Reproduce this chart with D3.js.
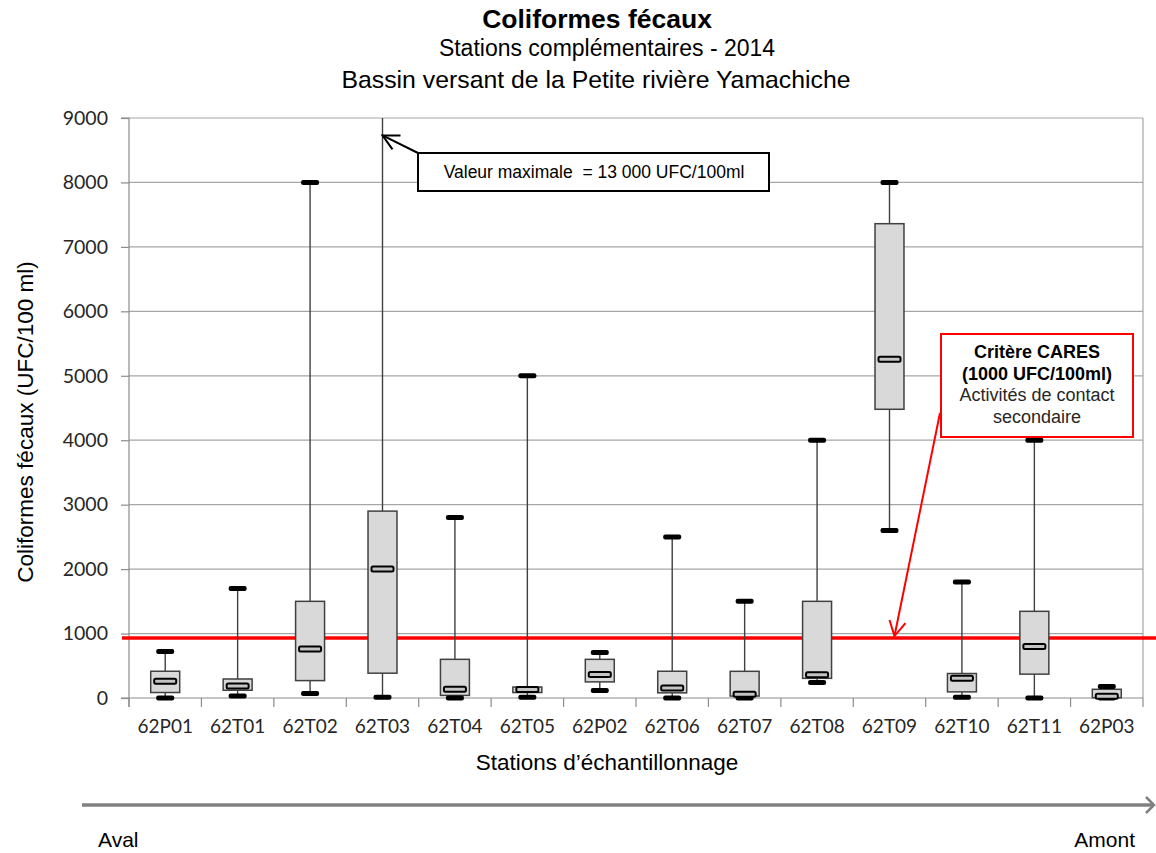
<!DOCTYPE html>
<html><head><meta charset="utf-8">
<script src="https://cdn.jsdelivr.net/npm/d3@7"></script>
<style>
html,body{margin:0;padding:0;background:#fff;}
svg{display:block;}
</style></head>
<body>
<svg id="chart" width="1156" height="853"></svg>
<script>
// ---- data ----
const stations = ["62P01","62T01","62T02","62T03","62T04","62T05","62P02","62T06","62T07","62T08","62T09","62T10","62T11","62P03"];
const minV   = [0, 30, 70, 10, 0, 10, 115, 0, 0, 240, 2600, 10, 0, 0];
const q1V    = [85, 120, 270, 385, 40, 85, 250, 80, 30, 305, 4480, 95, 370, 5];
const medV   = [260, 185, 760, 2000, 135, 130, 365, 155, 57, 362, 5255, 305, 800, 26];
const q3V    = [415, 295, 1500, 2900, 600, 170, 600, 415, 414, 1500, 7360, 380, 1345, 135];
const maxV   = [720, 1700, 8000, 13000, 2800, 5000, 705, 2500, 1500, 4000, 8000, 1800, 4000, 180];
const yTicks = [0,1000,2000,3000,4000,5000,6000,7000,8000,9000];
const criterion = 930;

const titleLines = ["Coliformes fécaux","Stations complémentaires - 2014","Bassin versant de la Petite rivière Yamachiche"];
const yTitle = "Coliformes fécaux (UFC/100 ml)";
const xTitle = "Stations d’échantillonnage";
const noteMax = "Valeur maximale  = 13 000 UFC/100ml";
const noteCares = ["Critère CARES","(1000 UFC/100ml)","Activités de contact","secondaire"];

const data = stations.map((s,i)=>({s,min:minV[i],q1:q1V[i],med:medV[i],q3:q3V[i],max:maxV[i]}));

const svg = d3.select("#chart");
const L=129, R=1143, T=118, B=698;
const x = d3.scaleBand().domain(stations).range([L,R]);
const y = d3.scaleLinear().domain([0,9000]).range([B,T]);
const bw = x.bandwidth();
const cx = s => x(s)+bw/2;

const ARIAL = "'Liberation Sans', Arial, sans-serif";
const CAL = "Lato, 'Open Sans', sans-serif";

const defs = svg.append("defs");
defs.append("clipPath").attr("id","plotclip").append("rect")
  .attr("x",L-20).attr("y",T).attr("width",R-L+40).attr("height",B-T+20);

// gridlines
svg.append("g").selectAll("line").data(yTicks.filter(d=>d>0)).join("line")
  .attr("x1",L).attr("x2",R).attr("y1",d=>y(d)).attr("y2",d=>y(d))
  .attr("stroke","#a6a6a6").attr("stroke-width",1.2);

// right border
svg.append("line").attr("x1",R).attr("x2",R).attr("y1",T).attr("y2",B)
  .attr("stroke","#a6a6a6").attr("stroke-width",1.2);

// y axis
const yAxis = d3.axisLeft(y).tickValues(yTicks).tickSize(8).tickPadding(13).tickFormat(d3.format("d"));
const gy = svg.append("g").attr("transform",`translate(${L},0)`).call(yAxis);
gy.select(".domain").attr("stroke","#8c8c8c").attr("stroke-width",1.2).attr("d",`M-8,${B}H0V${T}H-8`);
gy.selectAll(".tick line").attr("stroke","#8c8c8c").attr("stroke-width",1.2);
gy.selectAll(".tick text").attr("font-family",CAL).attr("font-size","19.5px").attr("fill","#262626");
gy.append("line").attr("x1",0).attr("x2",0).attr("y1",B).attr("y2",B+9).attr("stroke","#8c8c8c").attr("stroke-width",1.2);

// x axis
const gx = svg.append("g").attr("transform",`translate(0,${B})`);
gx.append("line").attr("x1",L).attr("x2",R).attr("y1",0).attr("y2",0).attr("stroke","#8c8c8c").attr("stroke-width",1.2);
gx.selectAll("line.tk").data(stations.map(s=>x(s)+bw).concat([L])).join("line").attr("class","tk")
  .attr("x1",d=>d).attr("x2",d=>d).attr("y1",0).attr("y2",9).attr("stroke","#8c8c8c").attr("stroke-width",1.2);
gx.selectAll("text").data(stations).join("text")
  .attr("x",d=>cx(d)).attr("y",35).attr("text-anchor","middle")
  .attr("font-family",CAL).attr("font-size","19px").attr("fill","#262626").text(d=>d);

// criterion line
svg.append("line").attr("x1",122).attr("x2",1156).attr("y1",y(criterion)).attr("y2",y(criterion))
  .attr("stroke","#ff0000").attr("stroke-width",3.5);

// boxes
const g = svg.append("g");
const boxes = g.selectAll("g.box").data(data).join("g").attr("class","box");
boxes.append("line").attr("clip-path","url(#plotclip)")
  .attr("x1",d=>cx(d.s)).attr("x2",d=>cx(d.s)).attr("y1",d=>y(d.min)).attr("y2",d=>y(d.max))
  .attr("stroke","#404040").attr("stroke-width",1.4);
const boxW = bw*0.4;
boxes.append("rect")
  .attr("x",d=>cx(d.s)-boxW/2).attr("width",boxW)
  .attr("y",d=>y(d.q3)).attr("height",d=>y(d.q1)-y(d.q3))
  .attr("fill","#d9d9d9").attr("stroke","#404040").attr("stroke-width",1.5);
const capW = 18, capH = 5;
boxes.filter(d=>d.max<=9000).append("rect")
  .attr("x",d=>cx(d.s)-capW/2).attr("width",capW).attr("y",d=>y(d.max)-capH/2).attr("height",capH)
  .attr("rx",2).attr("fill","#000");
boxes.append("rect")
  .attr("x",d=>cx(d.s)-capW/2).attr("width",capW).attr("y",d=>y(d.min)-capH/2).attr("height",capH)
  .attr("rx",2).attr("fill","#000");
const medW = 22, medH = 5;
boxes.append("rect")
  .attr("x",d=>cx(d.s)-medW/2).attr("width",medW).attr("y",d=>y(d.med)-medH/2).attr("height",medH)
  .attr("rx",1.5).attr("fill","#c4c4c4").attr("stroke","#000").attr("stroke-width",2);

// title
const tt = svg.append("g").attr("font-family",ARIAL).attr("fill","#000").attr("text-anchor","middle");
tt.append("text").attr("x",597).attr("y",28).attr("font-size","26.5px").attr("font-weight","bold").text(titleLines[0]);
tt.append("text").attr("x",607).attr("y",56).attr("font-size","23px").text(titleLines[1]);
tt.append("text").attr("x",596).attr("y",88).attr("font-size","24.8px").text(titleLines[2]);

// axis titles
svg.append("text").attr("transform","translate(25,422) rotate(-90)").attr("text-anchor","middle")
  .attr("dominant-baseline","central").attr("font-family",ARIAL).attr("font-size","22.5px").attr("fill","#000").text(yTitle);
svg.append("text").attr("x",607).attr("y",770).attr("text-anchor","middle")
  .attr("font-family",ARIAL).attr("font-size","22.5px").attr("fill","#000").text(xTitle);

// max annotation
const ax = cx("62T03"), ay = y(8730);
const na = svg.append("g");
na.append("line").attr("x1",418).attr("y1",153).attr("x2",ax).attr("y2",ay).attr("stroke","#000").attr("stroke-width",2);
na.append("path").attr("d",`M${ax+10},${ay+14}L${ax},${ay}L${ax+18},${ay}`).attr("fill","none").attr("stroke","#000").attr("stroke-width",2);
na.append("rect").attr("x",418).attr("y",153).attr("width",351).attr("height",38).attr("fill","#fff").attr("stroke","#000").attr("stroke-width",2);
na.append("text").attr("x",594).attr("y",178).attr("text-anchor","middle").attr("font-family",ARIAL)
  .attr("font-size","17.5px").attr("fill","#000").style("white-space","pre").text(noteMax);

// CARES annotation
const rx = cx("62T09")+5, ry = y(criterion)-2;
const nc = svg.append("g");
nc.append("line").attr("x1",940).attr("y1",413).attr("x2",rx).attr("y2",ry).attr("stroke","#ff0000").attr("stroke-width",2);
nc.append("path").attr("d",`M${rx-5},${ry-16}L${rx},${ry}L${rx+11},${ry-13}`).attr("fill","none").attr("stroke","#ff0000").attr("stroke-width",2);
nc.append("rect").attr("x",941).attr("y",334).attr("width",192).attr("height",103).attr("fill","#fff").attr("stroke","#ff0000").attr("stroke-width",2);
const ct = nc.append("g").attr("font-family",ARIAL).attr("font-size","18px").attr("text-anchor","middle");
noteCares.forEach((t,i)=>{
  ct.append("text").attr("x",1037).attr("y",358+i*21.7)
    .attr("font-weight",i<2?"bold":"normal").attr("fill",i<2?"#000":"#262626").text(t);
});

// bottom arrow
const ba = svg.append("g");
ba.append("line").attr("x1",82).attr("x2",1153).attr("y1",805).attr("y2",805).attr("stroke","#808080").attr("stroke-width",3.5);
ba.append("path").attr("d","M1146,797L1154,805L1146,813").attr("fill","none").attr("stroke","#808080").attr("stroke-width",2.5);
ba.append("text").attr("x",98).attr("y",847).attr("font-family",ARIAL).attr("font-size","21px").attr("fill","#000").text("Aval");
ba.append("text").attr("x",1135).attr("y",847).attr("text-anchor","end").attr("font-family",ARIAL).attr("font-size","21px").attr("fill","#000").text("Amont");
</script>
</body></html>
